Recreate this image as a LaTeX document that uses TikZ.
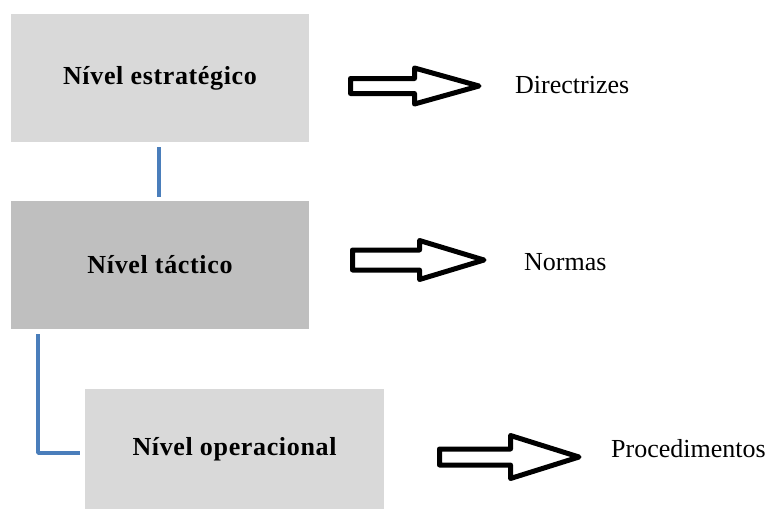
\documentclass[tikz,border=0pt]{standalone}
\usepackage{fontspec}
\setmainfont{Liberation Serif}
\definecolor{boxlight}{HTML}{D9D9D9}
\definecolor{boxdark}{HTML}{BFBFBF}
\definecolor{connblue}{HTML}{4A7EBB}
\newcommand\fatarrow[6]{%
  \draw[fatarr] (#1,#4-#5) -- (#2,#4-#5) -- (#2,#4-#6) -- (#3,#4) -- (#2,#4+#6) -- (#2,#4+#5) -- (#1,#4+#5) -- cycle;}
\begin{document}
\begin{tikzpicture}[x=1pt,y=-1pt,
  box/.style={rectangle, draw=none, inner sep=0pt, font=\fontsize{26}{30}\selectfont\bfseries\addfontfeatures{LetterSpace=2.5}},
  lab/.style={anchor=west, inner sep=0pt, font=\fontsize{26}{30}\selectfont},
  conn/.style={draw=connblue, line width=3.5pt},
  fatarr/.style={draw=black, fill=white, line width=5pt, line join=round}]
\useasboundingbox (0,0) rectangle (769,509);
\node[box, fill=boxlight, minimum width=298pt, minimum height=128pt] (b1) at (160,78) {Nível estratégico};
\node[box, fill=boxdark, minimum width=298pt, minimum height=128pt] (b2) at (160,265) {Nível táctico};
\node[box, fill=boxlight, minimum width=299pt, minimum height=121pt] (b3) at (234.5,449.5) {Nível operacional};
\node[lab] (d) at (515,85) {Directrizes};
\node[lab] (n) at (524,262) {Normas};
\node[lab] (p) at (611,449) {Procedimentos};
\draw[conn] (159,147) -- (159,197);
\coordinate (c1) at (38,334);
\coordinate (c2) at (80,453);
\draw[conn, line join=round] (c1) |- (c2);
\fatarrow{350.5}{414.5}{479}{86}{7.5}{18}
\fatarrow{352.5}{419.5}{484}{260}{10}{19.5}
\fatarrow{439.5}{510.5}{579}{457}{8}{21.5}
\end{tikzpicture}
\end{document}
